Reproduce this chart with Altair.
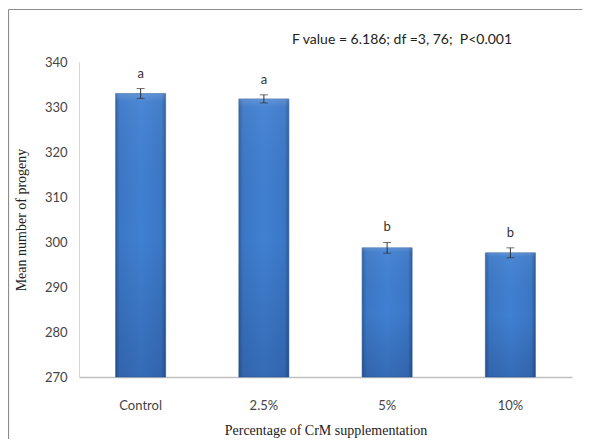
import altair as alt
import pandas as pd

categories = ["Control", "2.5%", "5%", "10%"]
means = [333.0, 331.8, 298.7, 297.6]
errors = [1.1, 0.9, 1.2, 1.1]
letters = ["a", "a", "b", "b"]
stats_text = "F value = 6.186; df =3, 76;\u00a0 P<0.001"

df = pd.DataFrame({
    "cat": categories,
    "mean": means,
    "err": errors,
    "letter": letters,
})
df["lo"] = df["mean"] - df["err"]
df["hi"] = df["mean"] + df["err"]

x_enc = alt.X("cat:N", sort=categories,
              scale=alt.Scale(paddingInner=0.594, paddingOuter=0.297),
              axis=alt.Axis(title="Percentage of CrM supplementation", labelAngle=0,
                            ticks=False, labelPadding=22, titlePadding=11,
                            domainColor="#c0c0c0", domainWidth=1.5))
y_scale = alt.Scale(domain=[270, 340], zero=False, nice=False)

base = alt.Chart(df)

bar_fill = alt.Gradient(
    gradient="linear", x1=0, x2=1, y1=0, y2=0,
    stops=[
        alt.GradientStop(offset=0, color="#2c5c9c"),
        alt.GradientStop(offset=0.08, color="#3b77c6"),
        alt.GradientStop(offset=0.5, color="#4080d2"),
        alt.GradientStop(offset=0.92, color="#3b77c6"),
        alt.GradientStop(offset=1, color="#2a5895"),
    ],
)
shade = alt.Gradient(
    gradient="linear", x1=0, x2=0, y1=0, y2=1,
    stops=[
        alt.GradientStop(offset=0, color="rgba(255,255,255,0.18)"),
        alt.GradientStop(offset=0.03, color="rgba(255,255,255,0.05)"),
        alt.GradientStop(offset=0.5, color="rgba(0,0,0,0.0)"),
        alt.GradientStop(offset=1, color="rgba(0,0,40,0.16)"),
    ],
)

bars = base.mark_bar(color=bar_fill, stroke="#2f5f9f", strokeWidth=0.6).encode(
    x=x_enc,
    y=alt.Y("mean:Q", scale=y_scale,
            axis=alt.Axis(title="Mean number of progeny", values=[270, 280, 290, 300, 310, 320, 330, 340],
                          ticks=False, grid=False, labelPadding=12, titlePadding=16,
                          domainColor="#d4d4d4", domainWidth=1)),
    y2=alt.datum(270),
)
bars_shade = base.mark_bar(color=shade).encode(
    x=alt.X("cat:N", sort=categories), y=alt.Y("mean:Q", scale=y_scale), y2=alt.datum(270)
)

rules = base.mark_rule(color="#333333", strokeWidth=1).encode(
    x=alt.X("cat:N", sort=categories), y="lo:Q", y2="hi:Q"
)
cap_lo = base.mark_tick(color="#333333", thickness=1, size=8, orient="horizontal").encode(
    x=alt.X("cat:N", sort=categories), y="lo:Q"
)
cap_hi = base.mark_tick(color="#333333", thickness=1, size=8, orient="horizontal").encode(
    x=alt.X("cat:N", sort=categories), y="hi:Q"
)
labels = base.mark_text(baseline="alphabetic", dy=-11, font="Lato", fontSize=13, color="#333333").encode(
    x=alt.X("cat:N", sort=categories), y="hi:Q", text="letter:N"
)

one = pd.DataFrame({"t": [stats_text]})
frame_top = alt.Chart(one).mark_rule(color="#8c8c8c", strokeWidth=1.2).encode(
    x=alt.value(-70.5), x2=alt.value(700), y=alt.value(-52.5)
)
frame_left = alt.Chart(one).mark_rule(color="#8c8c8c", strokeWidth=1.2).encode(
    x=alt.value(-70.5), y=alt.value(-52.5), y2=alt.value(600)
)
stats = alt.Chart(one).mark_text(font="Lato", fontSize=14, color="#222222", align="center",
                                 baseline="middle").encode(
    x=alt.value(323), y=alt.value(-22), text="t:N"
)

chart = alt.layer(frame_top, frame_left, bars, bars_shade, rules, cap_lo, cap_hi, labels, stats).properties(
    width=493,
    height=315,
    autosize=alt.AutoSizeParams(type="none"),
    padding={"left": 71, "top": 54, "right": 10, "bottom": 62},
).configure_view(stroke=None).configure_axis(
    labelFont="Lato", labelFontSize=13, labelColor="#444444",
    titleFont="Liberation Serif", titleFontSize=14, titleFontWeight="normal", titleColor="#222222",
)

chart.save("out.html", embed_options={"renderer": "svg", "actions": False})
